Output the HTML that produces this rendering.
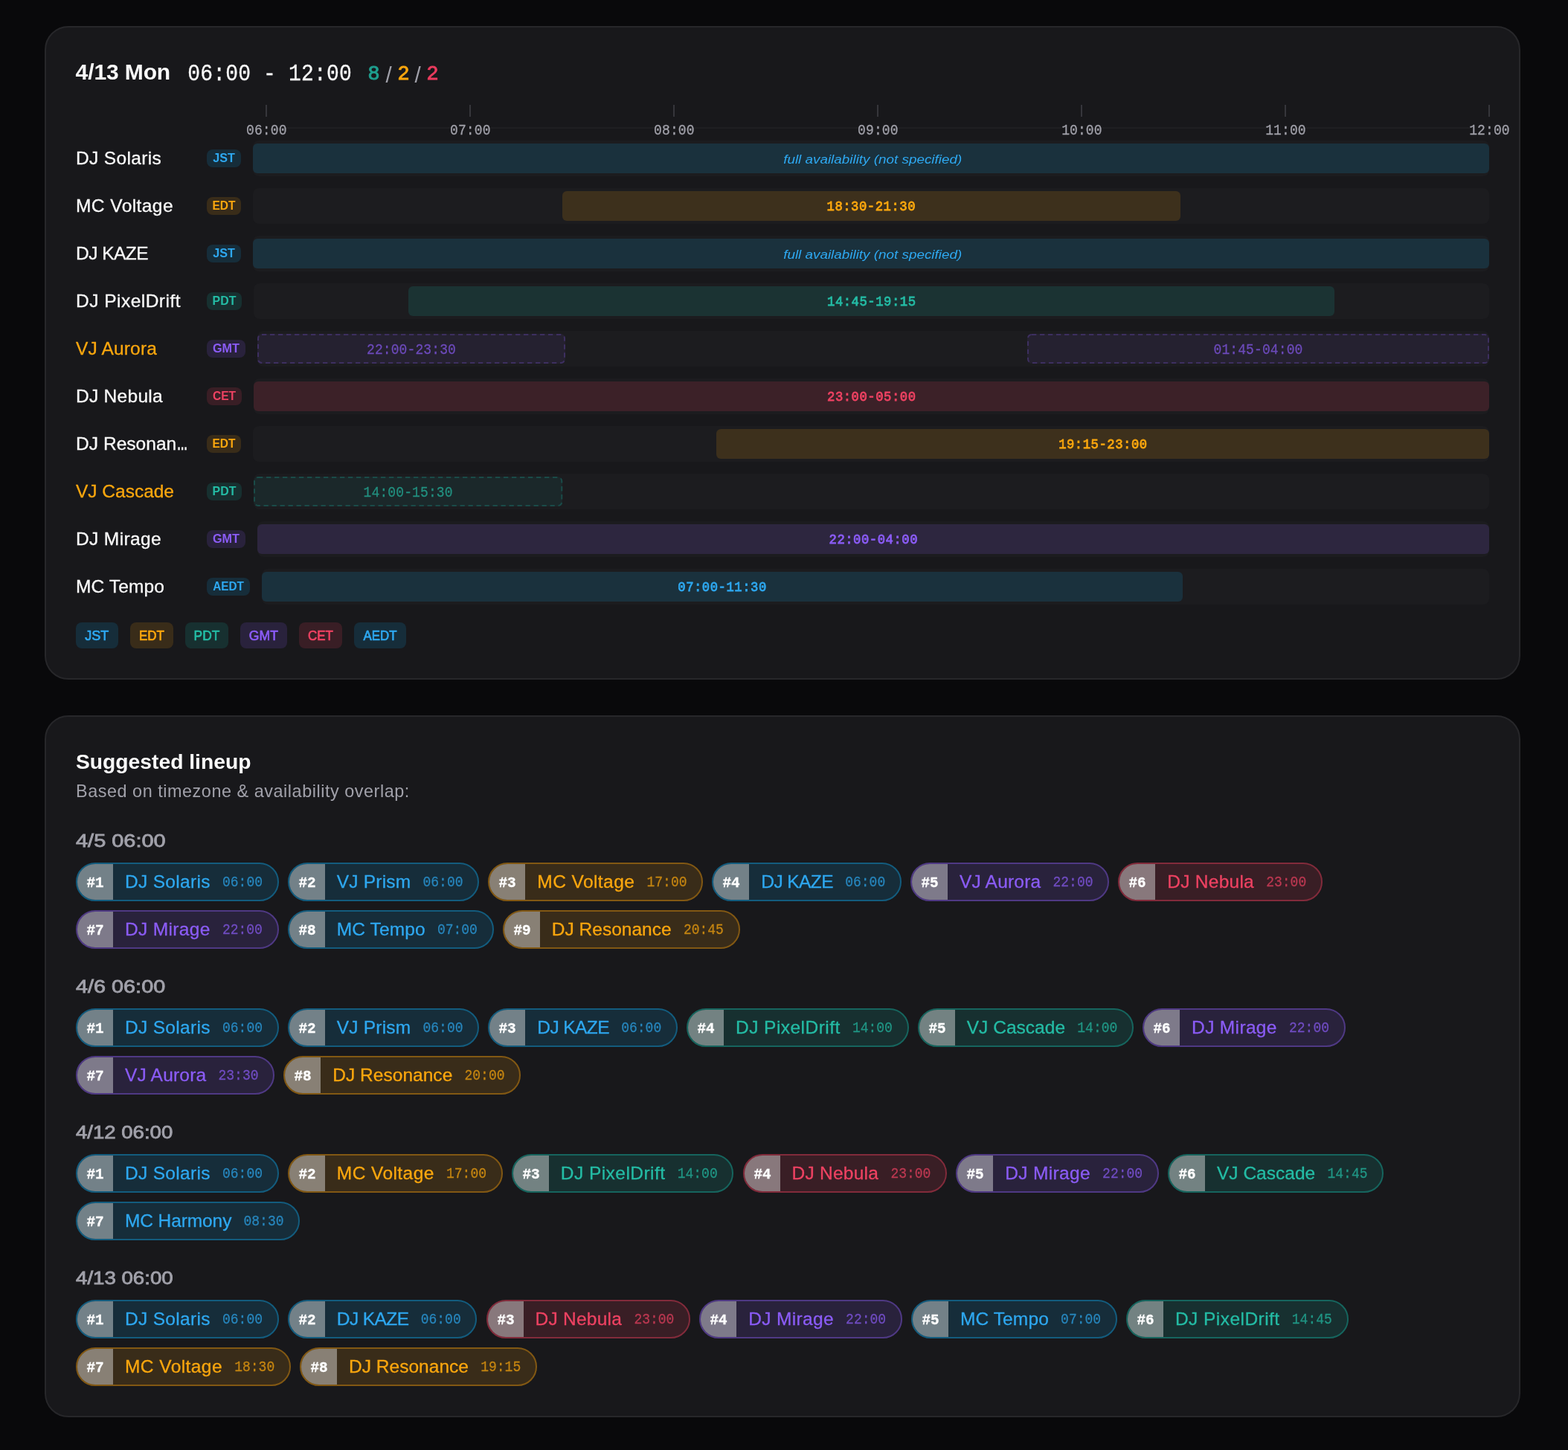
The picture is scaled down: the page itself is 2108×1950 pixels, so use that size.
<!DOCTYPE html>
<html lang="en">
<head>
<meta charset="utf-8">
<title>Lineup timeline</title>
<style>
*{box-sizing:border-box;margin:0;padding:0}
html,body{background:#09090b}
body{width:2108px;height:1950px;position:relative;font-family:'Liberation Sans',Arial,Helvetica,sans-serif;color:#fafafa}
@media (max-width:1100px) and (min-resolution:2dppx){html{zoom:.5}}
.card{position:absolute;left:60px;width:1984px;background:#18181b;border:2px solid #27272a;border-radius:32px}
.card *{position:absolute;white-space:pre}
.m{font-family:'Liberation Mono','DejaVu Sans Mono',monospace;transform:scaleY(1.14);letter-spacing:.006em}
h2{font-weight:700;font-size:30px;line-height:40px}
.rg{font-size:28px;line-height:40px;-webkit-text-stroke:0.25px;transform:scaleY(1.1)}
.ct{font-weight:400;font-size:25px;line-height:40px;-webkit-text-stroke:0.9px}
.sl{font-size:29.5px;line-height:40px;color:#a1a1aa}
.tick{width:2px;height:16px;background:#36363b}
.axl{font-size:18px;line-height:20px;color:#a1a1aa;width:54px;text-align:center;-webkit-text-stroke:0.25px}
.axline{height:2px;background:#1f1f22}
.nm{font-size:24.5px;line-height:30px;-webkit-text-stroke:0.3px}
.el{position:static!important;display:inline-block;font-weight:700;letter-spacing:0;transform:scaleX(.58);transform-origin:0 50%;margin-left:1px}
.bd{height:24px;border-radius:8px}
.bd b{left:0;top:0;width:100%;font-weight:700;font-size:17px;line-height:24px;text-align:center}
.trk{height:48px;border-radius:8px;background:#1c1c1f}
.bar{top:4px;height:40px;border-radius:6px}
.bar svg{left:0;top:0;overflow:visible}
.bl{left:0;width:100%;text-align:center;transform:scaleY(1.03);font-size:17.2px;line-height:40px;font-weight:400;-webkit-text-stroke:0.75px;letter-spacing:.55px;text-indent:.55px}
.dash .bl{transform:scaleY(1.14);font-size:18px;letter-spacing:.006em;text-indent:0;-webkit-text-stroke:0.25px}
.fl{left:0;top:0;width:100%;text-align:center;font-style:italic;font-size:17.2px;line-height:40px}
.lg{height:35px;border-radius:8px}
.lg b{left:0;top:0;width:100%;font-weight:400;font-size:18.5px;line-height:35px;text-align:center;-webkit-text-stroke:0.7px}
h3{font-weight:700;font-size:27.2px;line-height:36px}
.sub{font-size:23.4px;line-height:30px;color:#a1a1aa}
.grp{font-weight:400;font-size:23px;line-height:30px;color:#a1a1aa;-webkit-text-stroke:0.8px #a1a1aa}
.pill{height:52px;border-radius:26px;border:2px solid;overflow:hidden}
.rk{left:0;top:0;width:48px;height:48px;background:rgba(255,255,255,.4)}
.rk b{left:0;top:0;width:48px;text-align:center;color:#fff;transform:scale(1.07,1.14);letter-spacing:0;font-weight:700;font-size:18px;line-height:48px;-webkit-text-stroke:0.3px}
.pn{font-size:24.5px;line-height:48px;-webkit-text-stroke:0.3px}
.pt{font-size:18px;line-height:48px;letter-spacing:0;-webkit-text-stroke:0.25px}
.c-blue{color:#2ea8f0}.b-blue{background:#1a313d}.g-blue{background:#162d3a}.p-blue{background:#162d3a;border-color:#135c7e;color:#2ea8f0}.p-blue .pt{color:#2786bd}.d-blue{background:#1b272f;color:#2981b5}.d-blue svg{color:#18455c}
.c-amber{color:#fba70e}.b-amber{background:#3d301c}.g-amber{background:#392c19}.p-amber{background:#392c19;border-color:#825813;color:#fba70e}.p-amber .pt{color:#c58511}.d-amber{background:#2d261d;color:#bd8013}.d-amber svg{color:#5d4319}
.c-teal{color:#24bca5}.b-teal{background:#1b3333}.g-teal{background:#173030}.p-teal{background:#173030;border-color:#16655e;color:#24bca5}.p-teal .pt{color:#209584}.d-teal{background:#1b282a;color:#228f7f}.d-teal svg{color:#1a4b48}
.c-purple{color:#8b5cf6}.b-purple{background:#2d263f}.g-purple{background:#29223c}.p-purple{background:#29223c;border-color:#4f3984;color:#8b5cf6}.p-purple .pt{color:#704cc2}.d-purple{background:#252130;color:#6c4aba}.d-purple svg{color:#3d2f60}
.c-red{color:#ee4262}.b-red{background:#3c2128}.g-red{background:#391e25}.p-red{background:#391e25;border-color:#822b3b;color:#ee4262}.p-red .pt{color:#bb3851}.d-red{background:#2d1f24;color:#b3374f}.d-red svg{color:#5d2632}
</style>
</head>
<body>
<section class="card" style="top:35px;height:879px">
<h2 class="" style="left:39.6px;top:39.999px;letter-spacing:-0.109px;">4/13 Mon</h2>
<div class="m rg" style="left:190.3px;top:43.949px;transform-origin:0 27.451px;">06:00 - 12:00</div>
<span class="ct" style="left:433.3px;top:41.432px;color:#1f9f8f;transform:scaleX(1.08);transform-origin:0 50%">8</span>
<span class="sl" style="left:456.5px;top:43.672px;transform:scaleX(1);transform-origin:0 50%">/</span>
<span class="ct" style="left:473.3px;top:41.432px;color:#fba70e;transform:scaleX(1.08);transform-origin:0 50%">2</span>
<span class="sl" style="left:495.5px;top:43.672px;transform:scaleX(1);transform-origin:0 50%">/</span>
<span class="ct" style="left:512.3px;top:41.432px;color:#ea3c5e;transform:scaleX(1.08);transform-origin:0 50%">2</span>
<i class="axline" style="left:323.5px;top:134px;width:220px"></i>
<i class="axline" style="left:597.5px;top:134px;width:220px"></i>
<i class="axline" style="left:871.5px;top:134px;width:220px"></i>
<i class="axline" style="left:1145.5px;top:134px;width:220px"></i>
<i class="axline" style="left:1419.5px;top:134px;width:220px"></i>
<i class="axline" style="left:1693.5px;top:134px;width:220px"></i>
<i class="tick" style="left:295px;top:104px"></i>
<i class="tick" style="left:569.033px;top:104px"></i>
<i class="tick" style="left:843.067px;top:104px"></i>
<i class="tick" style="left:1117.1px;top:104px"></i>
<i class="tick" style="left:1391.133px;top:104px"></i>
<i class="tick" style="left:1665.167px;top:104px"></i>
<i class="tick" style="left:1939.2px;top:104px"></i>
<span class="m axl" style="left:269px;top:129.41px;transform-origin:0 14.79px;">06:00</span>
<span class="m axl" style="left:543.033px;top:129.41px;transform-origin:0 14.79px;">07:00</span>
<span class="m axl" style="left:817.067px;top:129.41px;transform-origin:0 14.79px;">08:00</span>
<span class="m axl" style="left:1091.1px;top:129.41px;transform-origin:0 14.79px;">09:00</span>
<span class="m axl" style="left:1365.133px;top:129.41px;transform-origin:0 14.79px;">10:00</span>
<span class="m axl" style="left:1639.167px;top:129.41px;transform-origin:0 14.79px;">11:00</span>
<span class="m axl" style="left:1913.2px;top:129.41px;transform-origin:0 14.79px;">12:00</span>
<div class="nm" style="left:40px;top:161.106px;letter-spacing:0.336px;">DJ Solaris</div>
<span class="bd c-blue g-blue" style="left:216px;top:164px;width:46px"><b style="transform:scaleX(0.95);top:0px">JST</b></span>
<div class="trk" style="left:278px;top:152px;width:1662px">
<div class="bar c-blue b-blue" style="left:0px;width:1662px">
<em class="fl" style="top:0.537px;transform:scaleX(1.097);text-indent:4px">full availability (not specified)</em>
</div>
</div>
<div class="nm" style="left:40px;top:225.106px;letter-spacing:0.434px;">MC Voltage</div>
<span class="bd c-amber g-amber" style="left:216px;top:228px;width:46px"><b style="transform:scaleX(0.912);top:0px">EDT</b></span>
<div class="trk" style="left:278px;top:216px;width:1662px">
<div class="bar c-amber b-amber" style="left:415.5px;width:831px">
<span class="m bl" style="top:2.423px;transform-origin:50% 24.577px">18:30-21:30</span>
</div>
</div>
<div class="nm" style="left:40px;top:289.106px;letter-spacing:-0.536px;">DJ KAZE</div>
<span class="bd c-blue g-blue" style="left:216px;top:292px;width:46px"><b style="transform:scaleX(0.95);top:0px">JST</b></span>
<div class="trk" style="left:278px;top:280px;width:1662px">
<div class="bar c-blue b-blue" style="left:0px;width:1662px">
<em class="fl" style="top:0.537px;transform:scaleX(1.097);text-indent:4px">full availability (not specified)</em>
</div>
</div>
<div class="nm" style="left:40px;top:353.106px;letter-spacing:0.48px;">DJ PixelDrift</div>
<span class="bd c-teal g-teal" style="left:216px;top:356px;width:47px"><b style="transform:scaleX(0.936);top:0px">PDT</b></span>
<div class="trk" style="left:279px;top:344px;width:1661px">
<div class="bar c-teal b-teal" style="left:207.625px;width:1245.75px">
<span class="m bl" style="top:2.423px;transform-origin:50% 24.577px">14:45-19:15</span>
</div>
</div>
<div class="nm" style="left:40px;top:417.106px;letter-spacing:0.156px;color:#fba70e">VJ Aurora</div>
<span class="bd c-purple g-purple" style="left:216px;top:420px;width:52px"><b style="transform:scaleX(0.954);top:0px">GMT</b></span>
<div class="trk" style="left:284px;top:408px;width:1656px">
<div class="bar dash d-purple" style="left:0px;width:414px">
<svg width="414" height="40" viewBox="0 0 414 40" aria-hidden="true"><rect x="1" y="1" width="412" height="38" rx="5" fill="none" stroke="currentColor" stroke-width="2" stroke-dasharray="6.3 4.7"/></svg>
<span class="m bl" style="top:2.21px;transform-origin:50% 24.79px">22:00-23:30</span>
</div>
<div class="bar dash d-purple" style="left:1035px;width:621px">
<svg width="621" height="40" viewBox="0 0 621 40" aria-hidden="true"><rect x="1" y="1" width="619" height="38" rx="5" fill="none" stroke="currentColor" stroke-width="2" stroke-dasharray="6.3 4.7"/></svg>
<span class="m bl" style="top:2.21px;transform-origin:50% 24.79px">01:45-04:00</span>
</div>
</div>
<div class="nm" style="left:40px;top:481.106px;letter-spacing:0.29px;">DJ Nebula</div>
<span class="bd c-red g-red" style="left:216px;top:484px;width:47px"><b style="transform:scaleX(0.918);top:0px">CET</b></span>
<div class="trk" style="left:279px;top:472px;width:1661px">
<div class="bar c-red b-red" style="left:0px;width:1661px">
<span class="m bl" style="top:2.423px;transform-origin:50% 24.577px">23:00-05:00</span>
</div>
</div>
<div class="nm" style="left:40px;top:545.106px;letter-spacing:0.047px;">DJ Resonan<span class="el">…</span></div>
<span class="bd c-amber g-amber" style="left:216px;top:548px;width:46px"><b style="transform:scaleX(0.912);top:0px">EDT</b></span>
<div class="trk" style="left:278px;top:536px;width:1662px">
<div class="bar c-amber b-amber" style="left:623.25px;width:1038.75px">
<span class="m bl" style="top:2.423px;transform-origin:50% 24.577px">19:15-23:00</span>
</div>
</div>
<div class="nm" style="left:40px;top:609.106px;letter-spacing:-0.011px;color:#fba70e">VJ Cascade</div>
<span class="bd c-teal g-teal" style="left:216px;top:612px;width:47px"><b style="transform:scaleX(0.936);top:0px">PDT</b></span>
<div class="trk" style="left:279px;top:600px;width:1661px">
<div class="bar dash d-teal" style="left:0px;width:415.25px">
<svg width="415.25" height="40" viewBox="0 0 415.25 40" aria-hidden="true"><rect x="1" y="1" width="413.25" height="38" rx="5" fill="none" stroke="currentColor" stroke-width="2" stroke-dasharray="6.3 4.7"/></svg>
<span class="m bl" style="top:2.21px;transform-origin:50% 24.79px">14:00-15:30</span>
</div>
</div>
<div class="nm" style="left:40px;top:673.106px;letter-spacing:0.373px;">DJ Mirage</div>
<span class="bd c-purple g-purple" style="left:216px;top:676px;width:52px"><b style="transform:scaleX(0.954);top:0px">GMT</b></span>
<div class="trk" style="left:284px;top:664px;width:1656px">
<div class="bar c-purple b-purple" style="left:0px;width:1656px">
<span class="m bl" style="top:2.423px;transform-origin:50% 24.577px">22:00-04:00</span>
</div>
</div>
<div class="nm" style="left:40px;top:737.106px;letter-spacing:0.123px;">MC Tempo</div>
<span class="bd c-blue g-blue" style="left:216px;top:740px;width:58px"><b style="transform:scaleX(0.902);top:0px">AEDT</b></span>
<div class="trk" style="left:290px;top:728px;width:1650px">
<div class="bar c-blue b-blue" style="left:0px;width:1237.5px">
<span class="m bl" style="top:2.423px;transform-origin:50% 24.577px">07:00-11:30</span>
</div>
</div>
<span class="lg c-blue g-blue" style="left:40.2px;top:800px;width:56.7px"><b style="transform:scaleX(0.976);top:0.4px">JST</b></span>
<span class="lg c-amber g-amber" style="left:113.1px;top:800px;width:57.8px"><b style="transform:scaleX(0.916);top:0.4px">EDT</b></span>
<span class="lg c-teal g-teal" style="left:187.1px;top:800px;width:57.9px"><b style="transform:scaleX(0.938);top:0.4px">PDT</b></span>
<span class="lg c-purple g-purple" style="left:261.2px;top:800px;width:62.7px"><b style="transform:scaleX(0.951);top:0.4px">GMT</b></span>
<span class="lg c-red g-red" style="left:340.1px;top:800px;width:57.9px"><b style="transform:scaleX(0.918);top:0.4px">CET</b></span>
<span class="lg c-blue g-blue" style="left:414px;top:800px;width:70px"><b style="transform:scaleX(0.912);top:0.4px">AEDT</b></span>
</section>
<section class="card" style="top:962px;height:944px">
<h3 class="" style="left:40px;top:42.87px;transform:scaleX(1.039);transform-origin:0 50%;">Suggested lineup</h3>
<p class="sub" style="left:40px;top:84.887px;letter-spacing:0.545px;">Based on timezone &amp; availability overlap:</p>
<h4 class="grp" style="left:40px;top:152.226px;transform:scaleX(1.258);transform-origin:0 50%;">4/5 06:00</h4>
<div class="pill p-blue" style="left:40px;top:196px;width:272.8px">
<span class="rk"><b class="m" style="top:2.01px;transform-origin:50% 28.79px">#1</b></span>
<span class="pn" style="left:64px;top:-0.494px;letter-spacing:0.316px">DJ Solaris</span>
<span class="m pt" style="left:195px;top:1.41px;transform-origin:0 28.79px">06:00</span>
</div>
<div class="pill p-blue" style="left:324.8px;top:196px;width:257.5px">
<span class="rk"><b class="m" style="top:2.01px;transform-origin:50% 28.79px">#2</b></span>
<span class="pn" style="left:64px;top:-0.494px;letter-spacing:0.188px">VJ Prism</span>
<span class="m pt" style="left:179.7px;top:1.41px;transform-origin:0 28.79px">06:00</span>
</div>
<div class="pill p-amber" style="left:594.3px;top:196px;width:289px">
<span class="rk"><b class="m" style="top:2.01px;transform-origin:50% 28.79px">#3</b></span>
<span class="pn" style="left:64px;top:-0.494px;letter-spacing:0.434px">MC Voltage</span>
<span class="m pt" style="left:211.2px;top:1.41px;transform-origin:0 28.79px">17:00</span>
</div>
<div class="pill p-blue" style="left:895.3px;top:196px;width:254.7px">
<span class="rk"><b class="m" style="top:2.01px;transform-origin:50% 28.79px">#4</b></span>
<span class="pn" style="left:64px;top:-0.494px;letter-spacing:-0.579px">DJ KAZE</span>
<span class="m pt" style="left:176.9px;top:1.41px;transform-origin:0 28.79px">06:00</span>
</div>
<div class="pill p-purple" style="left:1162px;top:196px;width:267.3px">
<span class="rk"><b class="m" style="top:2.01px;transform-origin:50% 28.79px">#5</b></span>
<span class="pn" style="left:64px;top:-0.494px;letter-spacing:0.19px">VJ Aurora</span>
<span class="m pt" style="left:189.5px;top:1.41px;transform-origin:0 28.79px">22:00</span>
</div>
<div class="pill p-red" style="left:1441.3px;top:196px;width:274.7px">
<span class="rk"><b class="m" style="top:2.01px;transform-origin:50% 28.79px">#6</b></span>
<span class="pn" style="left:64px;top:-0.494px;letter-spacing:0.257px">DJ Nebula</span>
<span class="m pt" style="left:196.9px;top:1.41px;transform-origin:0 28.79px">23:00</span>
</div>
<div class="pill p-purple" style="left:40px;top:260px;width:272.7px">
<span class="rk"><b class="m" style="top:2.01px;transform-origin:50% 28.79px">#7</b></span>
<span class="pn" style="left:64px;top:-0.494px;letter-spacing:0.34px">DJ Mirage</span>
<span class="m pt" style="left:194.9px;top:1.41px;transform-origin:0 28.79px">22:00</span>
</div>
<div class="pill p-blue" style="left:324.7px;top:260px;width:277px">
<span class="rk"><b class="m" style="top:2.01px;transform-origin:50% 28.79px">#8</b></span>
<span class="pn" style="left:64px;top:-0.494px;letter-spacing:0.123px">MC Tempo</span>
<span class="m pt" style="left:199.2px;top:1.41px;transform-origin:0 28.79px">07:00</span>
</div>
<div class="pill p-amber" style="left:613.7px;top:260px;width:319px">
<span class="rk"><b class="m" style="top:2.01px;transform-origin:50% 28.79px">#9</b></span>
<span class="pn" style="left:64px;top:-0.494px;letter-spacing:0.025px">DJ Resonance</span>
<span class="m pt" style="left:241.2px;top:1.41px;transform-origin:0 28.79px">20:45</span>
</div>
<h4 class="grp" style="left:40px;top:348.226px;transform:scaleX(1.253);transform-origin:0 50%;">4/6 06:00</h4>
<div class="pill p-blue" style="left:40px;top:392px;width:272.8px">
<span class="rk"><b class="m" style="top:2.01px;transform-origin:50% 28.79px">#1</b></span>
<span class="pn" style="left:64px;top:-0.494px;letter-spacing:0.316px">DJ Solaris</span>
<span class="m pt" style="left:195px;top:1.41px;transform-origin:0 28.79px">06:00</span>
</div>
<div class="pill p-blue" style="left:324.8px;top:392px;width:257.5px">
<span class="rk"><b class="m" style="top:2.01px;transform-origin:50% 28.79px">#2</b></span>
<span class="pn" style="left:64px;top:-0.494px;letter-spacing:0.188px">VJ Prism</span>
<span class="m pt" style="left:179.7px;top:1.41px;transform-origin:0 28.79px">06:00</span>
</div>
<div class="pill p-blue" style="left:594.3px;top:392px;width:254.7px">
<span class="rk"><b class="m" style="top:2.01px;transform-origin:50% 28.79px">#3</b></span>
<span class="pn" style="left:64px;top:-0.494px;letter-spacing:-0.579px">DJ KAZE</span>
<span class="m pt" style="left:176.9px;top:1.41px;transform-origin:0 28.79px">06:00</span>
</div>
<div class="pill p-teal" style="left:861px;top:392px;width:298.7px">
<span class="rk"><b class="m" style="top:2.01px;transform-origin:50% 28.79px">#4</b></span>
<span class="pn" style="left:64px;top:-0.494px;letter-spacing:0.456px">DJ PixelDrift</span>
<span class="m pt" style="left:220.9px;top:1.41px;transform-origin:0 28.79px">14:00</span>
</div>
<div class="pill p-teal" style="left:1171.7px;top:392px;width:290.4px">
<span class="rk"><b class="m" style="top:2.01px;transform-origin:50% 28.79px">#5</b></span>
<span class="pn" style="left:64px;top:-0.494px;letter-spacing:0.029px">VJ Cascade</span>
<span class="m pt" style="left:212.6px;top:1.41px;transform-origin:0 28.79px">14:00</span>
</div>
<div class="pill p-purple" style="left:1474.1px;top:392px;width:272.7px">
<span class="rk"><b class="m" style="top:2.01px;transform-origin:50% 28.79px">#6</b></span>
<span class="pn" style="left:64px;top:-0.494px;letter-spacing:0.34px">DJ Mirage</span>
<span class="m pt" style="left:194.9px;top:1.41px;transform-origin:0 28.79px">22:00</span>
</div>
<div class="pill p-purple" style="left:40px;top:456px;width:267.3px">
<span class="rk"><b class="m" style="top:2.01px;transform-origin:50% 28.79px">#7</b></span>
<span class="pn" style="left:64px;top:-0.494px;letter-spacing:0.19px">VJ Aurora</span>
<span class="m pt" style="left:189.5px;top:1.41px;transform-origin:0 28.79px">23:30</span>
</div>
<div class="pill p-amber" style="left:319.3px;top:456px;width:319px">
<span class="rk"><b class="m" style="top:2.01px;transform-origin:50% 28.79px">#8</b></span>
<span class="pn" style="left:64px;top:-0.494px;letter-spacing:0.025px">DJ Resonance</span>
<span class="m pt" style="left:241.2px;top:1.41px;transform-origin:0 28.79px">20:00</span>
</div>
<h4 class="grp" style="left:40px;top:544.226px;transform:scaleX(1.198);transform-origin:0 50%;">4/12 06:00</h4>
<div class="pill p-blue" style="left:40px;top:588px;width:272.8px">
<span class="rk"><b class="m" style="top:2.01px;transform-origin:50% 28.79px">#1</b></span>
<span class="pn" style="left:64px;top:-0.494px;letter-spacing:0.316px">DJ Solaris</span>
<span class="m pt" style="left:195px;top:1.41px;transform-origin:0 28.79px">06:00</span>
</div>
<div class="pill p-amber" style="left:324.8px;top:588px;width:289px">
<span class="rk"><b class="m" style="top:2.01px;transform-origin:50% 28.79px">#2</b></span>
<span class="pn" style="left:64px;top:-0.494px;letter-spacing:0.434px">MC Voltage</span>
<span class="m pt" style="left:211.2px;top:1.41px;transform-origin:0 28.79px">17:00</span>
</div>
<div class="pill p-teal" style="left:625.8px;top:588px;width:298.7px">
<span class="rk"><b class="m" style="top:2.01px;transform-origin:50% 28.79px">#3</b></span>
<span class="pn" style="left:64px;top:-0.494px;letter-spacing:0.456px">DJ PixelDrift</span>
<span class="m pt" style="left:220.9px;top:1.41px;transform-origin:0 28.79px">14:00</span>
</div>
<div class="pill p-red" style="left:936.5px;top:588px;width:274.7px">
<span class="rk"><b class="m" style="top:2.01px;transform-origin:50% 28.79px">#4</b></span>
<span class="pn" style="left:64px;top:-0.494px;letter-spacing:0.257px">DJ Nebula</span>
<span class="m pt" style="left:196.9px;top:1.41px;transform-origin:0 28.79px">23:00</span>
</div>
<div class="pill p-purple" style="left:1223.2px;top:588px;width:272.7px">
<span class="rk"><b class="m" style="top:2.01px;transform-origin:50% 28.79px">#5</b></span>
<span class="pn" style="left:64px;top:-0.494px;letter-spacing:0.34px">DJ Mirage</span>
<span class="m pt" style="left:194.9px;top:1.41px;transform-origin:0 28.79px">22:00</span>
</div>
<div class="pill p-teal" style="left:1507.9px;top:588px;width:290.4px">
<span class="rk"><b class="m" style="top:2.01px;transform-origin:50% 28.79px">#6</b></span>
<span class="pn" style="left:64px;top:-0.494px;letter-spacing:0.029px">VJ Cascade</span>
<span class="m pt" style="left:212.6px;top:1.41px;transform-origin:0 28.79px">14:45</span>
</div>
<div class="pill p-blue" style="left:40px;top:652px;width:301.3px">
<span class="rk"><b class="m" style="top:2.01px;transform-origin:50% 28.79px">#7</b></span>
<span class="pn" style="left:64px;top:-0.494px;letter-spacing:-0.1px">MC Harmony</span>
<span class="m pt" style="left:223.5px;top:1.41px;transform-origin:0 28.79px">08:30</span>
</div>
<h4 class="grp" style="left:40px;top:740.226px;transform:scaleX(1.202);transform-origin:0 50%;">4/13 06:00</h4>
<div class="pill p-blue" style="left:40px;top:784px;width:272.8px">
<span class="rk"><b class="m" style="top:2.01px;transform-origin:50% 28.79px">#1</b></span>
<span class="pn" style="left:64px;top:-0.494px;letter-spacing:0.316px">DJ Solaris</span>
<span class="m pt" style="left:195px;top:1.41px;transform-origin:0 28.79px">06:00</span>
</div>
<div class="pill p-blue" style="left:324.8px;top:784px;width:254.7px">
<span class="rk"><b class="m" style="top:2.01px;transform-origin:50% 28.79px">#2</b></span>
<span class="pn" style="left:64px;top:-0.494px;letter-spacing:-0.579px">DJ KAZE</span>
<span class="m pt" style="left:176.9px;top:1.41px;transform-origin:0 28.79px">06:00</span>
</div>
<div class="pill p-red" style="left:591.5px;top:784px;width:274.7px">
<span class="rk"><b class="m" style="top:2.01px;transform-origin:50% 28.79px">#3</b></span>
<span class="pn" style="left:64px;top:-0.494px;letter-spacing:0.257px">DJ Nebula</span>
<span class="m pt" style="left:196.9px;top:1.41px;transform-origin:0 28.79px">23:00</span>
</div>
<div class="pill p-purple" style="left:878.2px;top:784px;width:272.7px">
<span class="rk"><b class="m" style="top:2.01px;transform-origin:50% 28.79px">#4</b></span>
<span class="pn" style="left:64px;top:-0.494px;letter-spacing:0.34px">DJ Mirage</span>
<span class="m pt" style="left:194.9px;top:1.41px;transform-origin:0 28.79px">22:00</span>
</div>
<div class="pill p-blue" style="left:1162.9px;top:784px;width:277px">
<span class="rk"><b class="m" style="top:2.01px;transform-origin:50% 28.79px">#5</b></span>
<span class="pn" style="left:64px;top:-0.494px;letter-spacing:0.123px">MC Tempo</span>
<span class="m pt" style="left:199.2px;top:1.41px;transform-origin:0 28.79px">07:00</span>
</div>
<div class="pill p-teal" style="left:1451.9px;top:784px;width:298.7px">
<span class="rk"><b class="m" style="top:2.01px;transform-origin:50% 28.79px">#6</b></span>
<span class="pn" style="left:64px;top:-0.494px;letter-spacing:0.456px">DJ PixelDrift</span>
<span class="m pt" style="left:220.9px;top:1.41px;transform-origin:0 28.79px">14:45</span>
</div>
<div class="pill p-amber" style="left:40px;top:848px;width:289px">
<span class="rk"><b class="m" style="top:2.01px;transform-origin:50% 28.79px">#7</b></span>
<span class="pn" style="left:64px;top:-0.494px;letter-spacing:0.434px">MC Voltage</span>
<span class="m pt" style="left:211.2px;top:1.41px;transform-origin:0 28.79px">18:30</span>
</div>
<div class="pill p-amber" style="left:341px;top:848px;width:319px">
<span class="rk"><b class="m" style="top:2.01px;transform-origin:50% 28.79px">#8</b></span>
<span class="pn" style="left:64px;top:-0.494px;letter-spacing:0.025px">DJ Resonance</span>
<span class="m pt" style="left:241.2px;top:1.41px;transform-origin:0 28.79px">19:15</span>
</div>
</section>
</body>
</html>
